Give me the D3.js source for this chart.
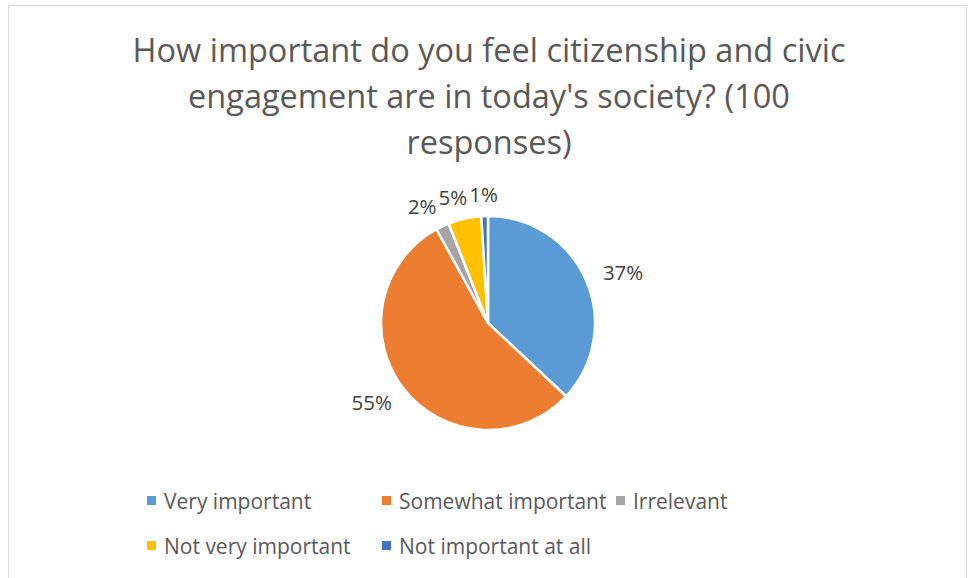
<!DOCTYPE html>
<html>
<head>
<meta charset="utf-8">
<script src="https://cdn.jsdelivr.net/npm/d3@7"></script>
<style>
  html, body { margin: 0; padding: 0; background: #fff; }
  svg { display: block; font-family: "Open Sans", sans-serif; }
</style>
</head>
<body>
<svg id="chart" width="968" height="578"></svg>
<script>
// Survey answers and their share of the 100 responses
const categories = ["Very important", "Somewhat important", "Irrelevant", "Not very important", "Not important at all"];
const values = [37, 55, 2, 5, 1];
const colors = ["#5B9BD5", "#ED7D31", "#A5A5A5", "#FFC000", "#4472C4"];
const titleLines = ["How important do you feel citizenship and civic", "engagement are in today's society? (100", "responses)"];

const svg = d3.select("#chart");

// chart frame
svg.append("rect")
  .attr("x", 8.5).attr("y", 5.5)
  .attr("width", 958).attr("height", 600)
  .attr("fill", "#fff").attr("stroke", "#D9D9D9").attr("stroke-width", 1);

// title
svg.append("g").selectAll("text").data(titleLines).join("text")
  .attr("x", 489)
  .attr("y", (d, i) => 62 + i * 46)
  .attr("text-anchor", "middle")
  .attr("font-size", 32.5)
  .attr("fill", "#595959")
  .text(d => d);

// pie
const cx = 488, cy = 323, r = 107;
const total = d3.sum(values);
const pie = d3.pie().sort(null).value(d => d)(values);
const arc = d3.arc().innerRadius(0).outerRadius(r);

const gPie = svg.append("g").attr("transform", `translate(${cx},${cy})`);
gPie.selectAll("path").data(pie).join("path")
  .attr("d", arc)
  .attr("fill", (d, i) => colors[i])
  .attr("stroke", "#fff")
  .attr("stroke-width", 2.5)
  .attr("stroke-linejoin", "round");

// data labels placed just outside each slice
const labelSize = 20.5;
const labels = gPie.selectAll("text.lbl").data(pie).join("text")
  .attr("class", "lbl")
  .attr("font-size", labelSize)
  .attr("fill", "#404040")
  .attr("text-anchor", "middle")
  .attr("dominant-baseline", "central")
  .text(d => Math.round(d.value / total * 100) + "%");

const Rl = r + 18;
const boxes = [];
labels.each(function (d) {
  const w = this.getComputedTextLength() + 4;
  const h = 8;
  const a = (d.startAngle + d.endAngle) / 2;
  const s = Math.sin(a), c = Math.cos(a);
  boxes.push({ x: Rl * s + s * w / 2, y: -Rl * c - c * h / 2, w: w - 4, node: this });
});
// push crowded labels apart, working back from the last slice
for (let i = boxes.length - 2; i >= 0; i--) {
  const b = boxes[i], n = boxes[i + 1];
  if (Math.abs(b.y - n.y) < labelSize && b.x + b.w / 2 > n.x - n.w / 2 - 2 && b.x < n.x) {
    b.x = n.x - n.w / 2 - 2 - b.w / 2;
  }
}
boxes.forEach(b => d3.select(b.node).attr("x", b.x).attr("y", b.y));

// legend, two rows
const legendItems = categories.map((c, i) => ({ name: c, color: colors[i] }));
const colX = [147, 382, 616];
const rowY = [501, 546];
const layout = [[0, 0], [1, 0], [2, 0], [0, 1], [1, 1]];
const gLeg = svg.append("g");
const items = gLeg.selectAll("g").data(legendItems).join("g")
  .attr("transform", (d, i) => `translate(${colX[layout[i][0]]},${rowY[layout[i][1]]})`);
items.append("rect")
  .attr("x", 0).attr("y", -5)
  .attr("width", 9).attr("height", 9)
  .attr("fill", d => d.color);
items.append("text")
  .attr("x", 17).attr("y", 0)
  .attr("dominant-baseline", "central")
  .attr("font-size", 21)
  .attr("fill", "#595959")
  .text(d => d.name);
</script>
</body>
</html>
